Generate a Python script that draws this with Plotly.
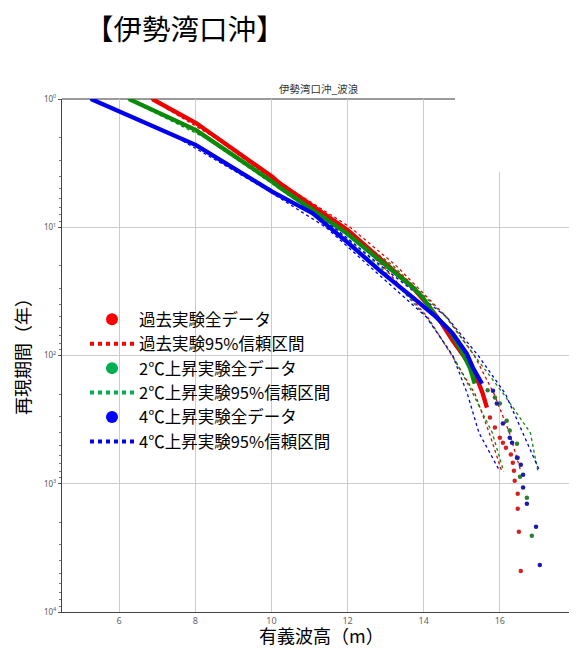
import plotly.graph_objects as go

# ---------------- data ----------------
# central "all data" curves (dense part drawn as thick line): wave height [m], return period [yr]
red_line_h = [6.87, 8.02, 10.03, 10.21, 12.00, 12.84, 13.71, 14.08, 14.42, 14.76, 15.13, 15.39, 15.55, 15.66]
red_line_t = [1.0, 1.54, 4.05, 4.53, 10.5, 17.2, 29.4, 39.3, 53.3, 76.4, 109, 149, 198, 255]
red_tail_h = [15.74, 15.87, 16.00, 16.08, 16.16, 16.29, 16.34, 16.37, 16.39, 16.47, 16.47, 16.50, 16.55]
red_tail_t = [305, 365, 437, 478, 524, 591, 686, 791, 948, 1197, 1567, 2371, 4786]

green_line_h = [6.26, 8.02, 10.03, 10.21, 11.97, 12.84, 13.71, 13.97, 14.34, 14.68, 15.03, 15.21, 15.34]
green_line_t = [1.0, 1.75, 4.43, 4.87, 11.1, 18.1, 29.4, 35.2, 50.5, 63.8, 96.4, 124, 166]
green_tail_h = [15.68, 15.87, 16.00, 16.18, 16.26, 16.45, 16.47, 16.53, 16.71, 16.84]
green_tail_t = [187, 213, 237, 322, 385, 487, 626, 881, 1288, 2547]

blue_line_h = [5.26, 8.02, 10.03, 11.08, 12.00, 12.84, 13.71, 14.34, 14.76, 15.13, 15.29, 15.53]
blue_line_t = [1.0, 2.29, 5.3, 7.77, 13.1, 21.7, 35.2, 50.5, 67.3, 96.4, 124, 166]
blue_tail_h = [15.82, 15.92, 16.08, 16.26, 16.32, 16.45, 16.55, 16.61, 16.61, 16.71, 16.95, 17.05]
blue_tail_t = [188, 237, 339, 437, 478, 626, 710, 850, 1072, 1432, 2168, 4296]

# 95% confidence intervals: return period [yr] and lower / upper wave height [m]
ci_t = [1, 2, 5, 10, 20, 50, 100, 200, 400, 800]
red_ci_lo = [6.84, 8.51, 10.37, 11.85, 12.92, 14.10, 14.74, 15.35, 15.72, 16.05]
red_ci_hi = [6.91, 8.61, 10.48, 12.07, 13.28, 14.60, 15.33, 15.85, 16.25, 16.55]
green_ci_lo = [6.22, 8.25, 10.21, 11.64, 12.84, 14.07, 14.76, 15.30, 15.80, 16.10]
green_ci_hi = [6.30, 8.36, 10.33, 11.87, 13.20, 14.58, 15.33, 16.10, 16.80, 17.00]
blue_ci_lo = [5.23, 7.52, 9.83, 11.43, 12.56, 14.07, 14.76, 15.15, 15.45, 16.00]
blue_ci_hi = [5.29, 7.62, 9.95, 11.64, 12.88, 14.60, 15.43, 16.15, 16.60, 17.05]

legend_names = ["過去実験全データ", "過去実験95%信頼区間",
                "2℃上昇実験全データ", "2℃上昇実験95%信頼区間",
                "4℃上昇実験全データ", "4℃上昇実験95%信頼区間"]

x_tickvals = [6, 8, 10, 12, 14, 16, 18]
x_ticktext = ["6", "8", "10", "12", "14", "16", "18"]
y_tickvals = [1, 10, 100, 1000, 10000]
y_ticktext = ["10<sup>0</sup>", "10<sup>1</sup>", "10<sup>2</sup>", "10<sup>3</sup>", "10<sup>4</sup>"]
y_minor = [m * 10 ** k for k in range(4) for m in range(2, 10)]

# ---------------- styling ----------------
JP = "Noto Sans CJK JP"
series = [
    dict(col="#ee0000", tail="#d42020", leg="#ff0000",
         lh=red_line_h, lt=red_line_t, th=red_tail_h, tt=red_tail_t, lo=red_ci_lo, hi=red_ci_hi),
    dict(col="#0a8a0a", tail="#2e7d32", leg="#00b050",
         lh=green_line_h, lt=green_line_t, th=green_tail_h, tt=green_tail_t, lo=green_ci_lo, hi=green_ci_hi),
    dict(col="#0000ee", tail="#1a1ab0", leg="#0000ff",
         lh=blue_line_h, lt=blue_line_t, th=blue_tail_h, tt=blue_tail_t, lo=blue_ci_lo, hi=blue_ci_hi),
]

fig = go.Figure()

for s in series:
    for arr in (s["lo"], s["hi"]):
        fig.add_trace(go.Scatter(x=arr, y=ci_t, mode="lines",
                                 line=dict(color=s["col"], width=1.3, dash="dot"),
                                 showlegend=False, hoverinfo="skip"))

for s in series:
    fig.add_trace(go.Scatter(x=s["lh"], y=s["lt"], mode="lines",
                             line=dict(color=s["col"], width=4.3),
                             showlegend=False))
    fig.add_trace(go.Scatter(x=s["th"], y=s["tt"], mode="markers",
                             marker=dict(color=s["tail"], size=4.5),
                             showlegend=False))

for i, s in enumerate(series):
    fig.add_trace(go.Scatter(x=[None], y=[None], mode="markers", name=legend_names[2 * i],
                             marker=dict(color=s["leg"], size=12)))
    fig.add_trace(go.Scatter(x=[None], y=[None], mode="lines", name=legend_names[2 * i + 1],
                             line=dict(color=s["leg"], width=4, dash="dot")))

# page has an 8px body margin; layout is sized so the plot lands where the reference has it
OFF = 8
L, R, T, B = 54, 1, 91, 36
W, H = 569, 640
pw, ph = W - L - R, H - T - B


def px(xp):
    return (xp - OFF - L) / pw


def py(yp):
    return 1 - (yp - OFF - T) / ph


fig.update_layout(
    width=W, height=H,
    margin=dict(l=L, r=R, t=T, b=B, autoexpand=False),
    plot_bgcolor="white", paper_bgcolor="white",
    font=dict(family=JP, color="black"),
    showlegend=True,
    legend=dict(x=px(85), y=py(302), xanchor="left", yanchor="top",
                bgcolor="rgba(0,0,0,0)", font=dict(family=JP, size=16.5, color="black"),
                itemwidth=44, tracegroupgap=0),
    xaxis=dict(range=[4.5, 18], tickvals=x_tickvals, ticktext=x_ticktext, automargin=False,
               showgrid=True, gridcolor="#cccccc", gridwidth=1, zeroline=False,
               showline=True, linecolor="#444444", linewidth=1.3, ticks="",
               tickfont=dict(family="Noto Sans", size=9, color="#666666")),
    yaxis=dict(type="log", range=[4, 0], tickvals=y_tickvals, ticktext=y_ticktext, automargin=False,
               showgrid=True, gridcolor="#cccccc", gridwidth=1, zeroline=False,
               showline=True, linecolor="#444444", linewidth=1.3,
               ticks="outside", ticklen=3, tickcolor="#555555",
               minor=dict(tickvals=y_minor, ticks="outside", ticklen=2, tickcolor="#777777", showgrid=False),
               tickfont=dict(family="Noto Sans", size=8, color="#555555")),
    shapes=[
        dict(type="line", xref="paper", yref="paper", x0=0, x1=1, y0=1, y1=1,
             line=dict(color="#9a9a9a", width=2), layer="below"),
        dict(type="line", xref="paper", yref="paper", x0=0.998, x1=0.998, y0=0, y1=1,
             line=dict(color="#aaaaaa", width=1.5), layer="below"),
        dict(type="rect", xref="paper", yref="paper", x0=px(455), x1=1.01, y0=py(172), y1=1.01,
             fillcolor="white", line=dict(width=0), layer="above"),
    ],
    annotations=[
        dict(text="【伊勢湾口沖】", xref="paper", yref="paper", x=px(83), y=py(27),
             xanchor="left", yanchor="middle", showarrow=False,
             font=dict(family=JP, size=28.5, color="black")),
        dict(text="伊勢湾口沖_波浪", xref="paper", yref="paper", x=px(319), y=py(88),
             xanchor="center", yanchor="middle", showarrow=False,
             font=dict(family=JP, size=10.5, color="#333333")),
        dict(text="再現期間（年）", xref="paper", yref="paper", x=px(22), y=py(352),
             xanchor="center", yanchor="middle", textangle=-90, showarrow=False,
             font=dict(family=JP, size=18, color="black")),
        dict(text="有義波高（m）", xref="paper", yref="paper", x=px(321), y=py(635),
             xanchor="center", yanchor="middle", showarrow=False,
             font=dict(family=JP, size=18, color="black")),
        dict(text="!", xref="paper", yref="paper", x=px(570), y=py(139),
             xanchor="center", yanchor="middle", showarrow=False,
             font=dict(family="DejaVu Sans", size=8, color="#888888")),
        dict(text="!", xref="paper", yref="paper", x=px(570), y=py(160),
             xanchor="center", yanchor="middle", showarrow=False,
             font=dict(family="DejaVu Sans", size=8, color="#888888")),
    ],
)

fig.write_html("out.html")
